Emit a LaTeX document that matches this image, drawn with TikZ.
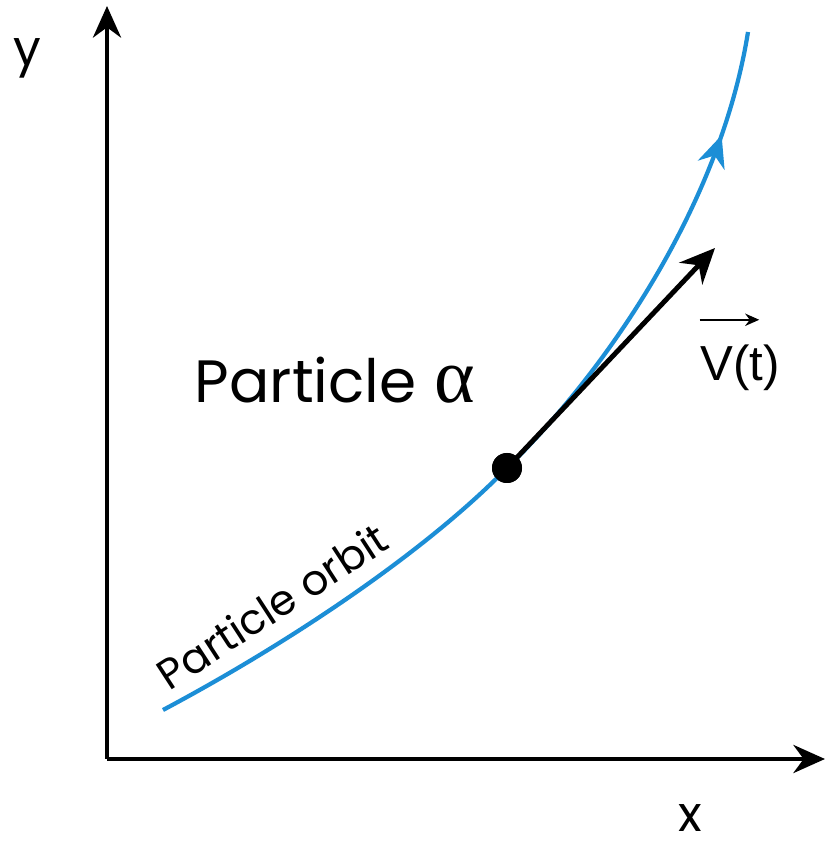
\documentclass[tikz,border=0pt]{standalone}
\usepackage{fontspec}
\setmainfont{Poppins}
\newfontfamily\greekfont{Liberation Serif}
\newfontfamily\labelfont{Liberation Sans}
\usetikzlibrary{arrows.meta,decorations.markings}
\definecolor{orbitblue}{RGB}{28,142,214}

\begin{document}
\begin{tikzpicture}[
    axis/.style={line width=1.2pt,-{Stealth[length=9pt,width=8pt]}},
    orbit/.style={orbitblue,line width=1.2pt,postaction={decorate},
      decoration={markings,mark=at position 0.885 with {\arrow{Stealth[length=9pt,width=8pt]}}}},
    lab/.style={inner sep=0pt}]
\useasboundingbox (0,0) rectangle (8.27,8.42);
% axes
\coordinate (O) at (1.07,0.83);
\coordinate (ytip) at (1.07,8.36);
\coordinate (xtip) at (8.25,0.83);
\draw[axis] (O) -- (ytip);
\draw[axis] (O) -- (xtip);
\node[lab,font=\fontsize{14}{16}\selectfont] (ylab) at (0.27,7.84) {y};
\node[lab,font=\fontsize{14}{16}\selectfont] (xlab) at (6.90,0.24) {x};
% orbit
\node[circle,fill=black,inner sep=0pt,minimum size=0.3cm] (dot) at (5.07,3.74) {};
\coordinate (start) at (1.63,1.32);
\coordinate (end) at (7.48,8.10);
\draw[orbit] (start) .. controls (3.0,2.05) and (4.3,2.95) .. (dot.center)
  .. controls (6.05,4.7) and (7.2,6.35) .. (end);
\node[lab,rotate=33,font=\fontsize{12}{14}\selectfont] (orbitlab) at (2.72,2.36) {Particle orbit};
% particle and velocity
\coordinate (vtip) at (7.15,5.94);
\draw[line width=1.4pt,-{Stealth[length=10pt,width=9pt]}] (dot.center) -- (vtip);
\node[circle,fill=black,inner sep=0pt,minimum size=0.3cm] at (dot) {};
\node[lab,font=\labelfont\fontsize{14}{16}\selectfont] (vlab) at (7.40,4.74) {V(t)};
\draw[line width=0.6pt,-{Stealth[length=4pt,width=3.5pt]}] ([yshift=7pt]vlab.north west) -- ([xshift=-6pt,yshift=7pt]vlab.north east);
\node[lab,font=\fontsize{17}{20}\selectfont] (name) at (3.35,4.62) {Particle\hspace{0.3em}{\greekfont\fontsize{22}{24}\selectfont α}};
\end{tikzpicture}
\end{document}
